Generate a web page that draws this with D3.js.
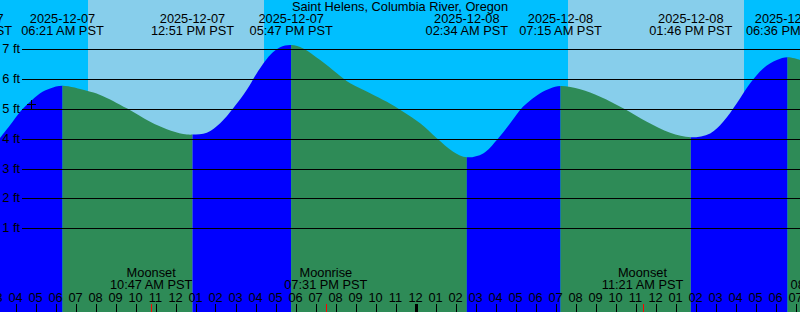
<!DOCTYPE html>
<html>
<head>
<meta charset="utf-8">
<script src="https://cdn.jsdelivr.net/npm/d3@7"></script>
<style>
  html, body { margin: 0; padding: 0; background: #00bfff; }
  svg { display: block; }
  text { font-family: "Liberation Sans", Arial, sans-serif; font-size: 12.8px; fill: #000; }
</style>
</head>
<body>
<svg id="chart" width="800" height="312"></svg>
<script>
// --- data ---

const stationName = "Saint Helens, Columbia River, Oregon";

// tide extremes (local PST)
const tideTimes = ["2025-12-07 01:46", "2025-12-07 06:21", "2025-12-07 12:51", "2025-12-07 17:47",
                   "2025-12-08 02:34", "2025-12-08 07:15", "2025-12-08 13:46", "2025-12-08 18:36"];
const tideTypes = ["low", "high", "low", "high", "low", "high", "low", "high"];

// water level samples (ft) along the curve
const levelTimes = [
  "2025-12-07 03:13", "2025-12-07 03:44", "2025-12-07 04:14", "2025-12-07 04:44", "2025-12-07 05:14",
  "2025-12-07 05:44", "2025-12-07 06:21", "2025-12-07 07:34", "2025-12-07 08:14", "2025-12-07 09:34",
  "2025-12-07 10:44", "2025-12-07 11:34", "2025-12-07 12:23", "2025-12-07 12:51", "2025-12-07 13:34",
  "2025-12-07 14:14", "2025-12-07 14:53", "2025-12-07 15:34", "2025-12-07 16:04", "2025-12-07 16:44",
  "2025-12-07 17:14", "2025-12-07 17:47", "2025-12-07 18:23", "2025-12-07 19:14", "2025-12-07 20:04",
  "2025-12-07 20:44", "2025-12-07 21:44", "2025-12-07 22:34", "2025-12-07 23:23", "2025-12-08 00:14",
  "2025-12-08 01:04", "2025-12-08 01:53", "2025-12-08 02:34", "2025-12-08 03:23", "2025-12-08 04:04",
  "2025-12-08 04:44", "2025-12-08 05:23", "2025-12-08 06:14", "2025-12-08 06:44", "2025-12-08 07:15",
  "2025-12-08 08:14", "2025-12-08 09:14", "2025-12-08 10:23", "2025-12-08 11:34", "2025-12-08 12:44",
  "2025-12-08 13:46", "2025-12-08 14:44", "2025-12-08 15:23", "2025-12-08 16:04", "2025-12-08 16:44",
  "2025-12-08 17:23", "2025-12-08 18:04", "2025-12-08 18:36", "2025-12-08 19:15"];
const levelFeet = [
  4.02, 4.46, 4.91, 5.24, 5.53,
  5.69, 5.78, 5.61, 5.47, 5.02,
  4.57, 4.32, 4.16, 4.14, 4.20,
  4.52, 5.02, 5.64, 6.20, 6.81,
  7.07, 7.14, 7.03, 6.64, 6.20,
  5.86, 5.53, 5.24, 4.91, 4.52,
  4.02, 3.57, 3.38, 3.51, 3.96,
  4.52, 5.08, 5.53, 5.69, 5.77,
  5.66, 5.41, 5.02, 4.57, 4.20,
  4.05, 4.18, 4.57, 5.19, 5.86,
  6.36, 6.64, 6.73, 6.64];

// sunrise / sunset
const sunriseTimes = ["2025-12-07 07:38", "2025-12-08 07:38"];
const sunsetTimes  = ["2025-12-07 16:26", "2025-12-08 16:26"];

// moon events
const moonTimes = ["2025-12-07 10:47", "2025-12-07 19:31", "2025-12-08 11:21", "2025-12-08 20:50"];
const moonNames = ["Moonset", "Moonrise", "Moonset", "Moonrise"];

// "now" marker
const nowTime = "2025-12-07 04:45";
const nowLevel = 5.18;

const gridFeet = [1, 2, 3, 4, 5, 6, 7];

// --- drawing ---

const parse = d3.timeParse("%Y-%m-%d %H:%M");
const fmtDate = d3.timeFormat("%Y-%m-%d");
const fmtTime = d3.timeFormat("%I:%M %p PST");

const W = 800, H = 312;
const t0 = new Date(2025, 11, 7, 3, 13, 30);
const t1 = d3.timeHour.offset(t0, 40);

const x = d3.scaleTime().domain([t0, t1]).range([0, W]);
const y = d3.scaleLinear().domain([1, 7]).range([228.3, 49.3]);

const svg = d3.select("#chart");

const nightColor = "#00bfff", dayColor = "#87ceeb";
const risingColor = "#0000ff", fallingColor = "#2e8b57";

// background: night everywhere, daylight bands
svg.append("rect").attr("width", W).attr("height", H).attr("fill", nightColor);
svg.selectAll("rect.day").data(sunriseTimes.map((d, i) => [parse(d), parse(sunsetTimes[i])]))
  .enter().append("rect").attr("class", "day")
  .attr("x", d => x(d[0])).attr("width", d => x(d[1]) - x(d[0]))
  .attr("y", 0).attr("height", H)
  .attr("fill", dayColor).attr("shape-rendering", "crispEdges");

// water area as clip, coloured bands by rising/falling
const levels = levelTimes.map((t, i) => ({ t: parse(t), v: levelFeet[i] }));
const area = d3.area().x(d => x(d.t)).y0(H).y1(d => y(d.v)).curve(d3.curveCatmullRom.alpha(0.5));

svg.append("clipPath").attr("id", "water").append("path").attr("d", area(levels));

const tides = tideTimes.map((t, i) => ({ t: parse(t), type: tideTypes[i] }));
const bands = tides.map((d, i) => ({
  from: d.t,
  to: i + 1 < tides.length ? tides[i + 1].t : t1,
  color: d.type === "high" ? fallingColor : risingColor
}));

svg.append("g").attr("clip-path", "url(#water)")
  .selectAll("rect").data(bands).enter().append("rect")
  .attr("x", d => Math.max(x(d.from), -5)).attr("width", d => x(d.to) - Math.max(x(d.from), -5))
  .attr("y", 0).attr("height", H)
  .attr("fill", d => d.color);

// grid lines + ft labels
const grid = svg.append("g");
grid.selectAll("line").data(gridFeet).enter().append("line")
  .attr("x1", 22).attr("x2", W)
  .attr("y1", d => Math.round(y(d)) + 0.5).attr("y2", d => Math.round(y(d)) + 0.5)
  .attr("stroke", "#000").attr("stroke-width", 1);
grid.selectAll("text").data(gridFeet).enter().append("text")
  .attr("x", 20).attr("y", d => Math.round(y(d)) + 4)
  .attr("text-anchor", "end")
  .text(d => `${d} ft`);

// now marker
const nx = Math.round(x(parse(nowTime))) + 0.5, ny = Math.round(y(nowLevel)) + 0.5;
svg.append("path").attr("d", `M${nx - 4.5},${ny}H${nx + 4.5}M${nx},${ny - 4.5}V${ny + 4.5}`)
  .attr("stroke", "#000").attr("stroke-width", 1);

// title
svg.append("text").attr("x", W / 2).attr("y", 11).attr("text-anchor", "middle").text(stationName);

// tide event labels
const tl = svg.append("g").selectAll("g").data(tides).enter().append("g")
  .attr("transform", d => `translate(${x(d.t)},0)`);
tl.append("text").attr("y", 23).attr("text-anchor", "middle").text(d => fmtDate(d.t));
tl.append("text").attr("y", 35).attr("text-anchor", "middle").text(d => fmtTime(d.t));

// moon labels
const moons = moonTimes.map((t, i) => ({ t: parse(t), name: moonNames[i] }));
const ml = svg.append("g").selectAll("g").data(moons).enter().append("g")
  .attr("transform", d => `translate(${x(d.t)},0)`);
ml.append("text").attr("y", 277).attr("text-anchor", "middle").text(d => d.name);
ml.append("text").attr("y", 289).attr("text-anchor", "middle").text(d => fmtTime(d.t));

// hour axis
const hours = d3.timeHour.range(d3.timeHour.floor(t0), t1);
const ax = svg.append("g");
ax.selectAll("text").data(hours).enter().append("text")
  .attr("x", d => x(d)).attr("y", 301.5).attr("text-anchor", "middle")
  .text(d3.timeFormat("%I"));
ax.selectAll("line").data(hours).enter().append("line")
  .attr("x1", d => Math.round(x(d)) + 0.5).attr("x2", d => Math.round(x(d)) + 0.5)
  .attr("y1", 304).attr("y2", H)
  .attr("stroke", "#000")
  .attr("stroke-width", d => d.getHours() === 0 ? 3 : 1);
ax.selectAll("line.moon").data(moons).enter().append("line").attr("class", "moon")
  .attr("x1", d => Math.round(x(d.t)) + 0.5).attr("x2", d => Math.round(x(d.t)) + 0.5)
  .attr("y1", 304).attr("y2", H)
  .attr("stroke", "#ff0000").attr("stroke-width", 1);
</script>
</body>
</html>
